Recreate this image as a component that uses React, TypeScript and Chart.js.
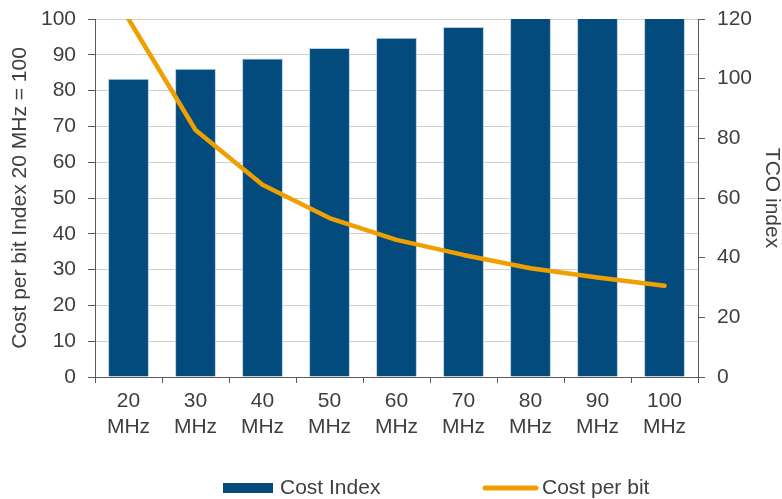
import React, { useEffect, useRef } from "react";
import { Chart, registerables } from "chart.js";

Chart.register(...registerables);

const categories: string[][] = [
  ["20", "MHz"], ["30", "MHz"], ["40", "MHz"], ["50", "MHz"], ["60", "MHz"],
  ["70", "MHz"], ["80", "MHz"], ["90", "MHz"], ["100", "MHz"],
];
const costIndex: number[] = [100, 103.3, 106.8, 110.3, 113.7, 117.3, 121, 124, 128];
const costPerBit: number[] = [100, 69, 53.7, 44.4, 38.3, 34.1, 30.4, 27.8, 25.5];

const BAR_COLOR = "#034A7D";
const LINE_COLOR = "#EFA000";
const TEXT = "#3F3F3F";
const AXIS = "#5A5A5A";
const GRID = "#CFCFCF";
const FONT = "'Liberation Sans', Arial, sans-serif";

const customLegend = {
  id: "customLegend",
  afterDraw(chart: any) {
    const ctx = chart.ctx;
    const y = 488;
    ctx.save();
    ctx.font = `21px ${FONT}`;
    ctx.fillStyle = TEXT;
    ctx.textBaseline = "middle";
    ctx.textAlign = "left";
    const ds0 = chart.data.datasets[0];
    ctx.fillStyle = ds0.backgroundColor;
    ctx.fillRect(223, y - 5, 50, 10);
    ctx.fillStyle = TEXT;
    ctx.fillText(ds0.label, 280, y);
    const ds1 = chart.data.datasets[1];
    ctx.strokeStyle = ds1.borderColor;
    ctx.lineWidth = 5;
    ctx.lineCap = "round";
    ctx.beginPath();
    ctx.moveTo(485, y);
    ctx.lineTo(536, y);
    ctx.stroke();
    ctx.fillText(ds1.label, 542, y);
    ctx.restore();
  },
};

export default function App() {
  const ref = useRef<HTMLCanvasElement | null>(null);
  useEffect(() => {
    document.body.style.margin = "0";
    if (!ref.current) return;
    const chart = new Chart(ref.current, {
      type: "bar",
      data: {
        labels: categories,
        datasets: [
          {
            type: "bar",
            label: "Cost Index",
            data: costIndex,
            backgroundColor: BAR_COLOR,
            borderColor: "#B9CFE2",
            borderWidth: 1,
            yAxisID: "y1",
            categoryPercentage: 1,
            barPercentage: 0.61,
            clip: 0,
            order: 2,
          } as any,
          {
            type: "line",
            label: "Cost per bit",
            data: costPerBit,
            borderColor: LINE_COLOR,
            backgroundColor: LINE_COLOR,
            borderWidth: 4.5,
            borderCapStyle: "round",
            borderJoinStyle: "round",
            pointRadius: 0,
            tension: 0,
            yAxisID: "y",
            clip: 0,
            order: 1,
          } as any,
        ],
      },
      options: {
        responsive: false,
        animation: false,
        layout: { padding: { top: 19, left: 0, right: 0, bottom: 0 } },
        plugins: {
          legend: { display: false },
          tooltip: { enabled: false },
        },
        scales: {
          x: {
            offset: true,
            grid: {
              display: true,
              drawOnChartArea: false,
              drawTicks: true,
              tickLength: 6,
              tickColor: AXIS,
              offset: true,
            },
            border: { display: true, color: AXIS, width: 1 },
            ticks: {
              color: TEXT,
              font: { family: FONT, size: 21, lineHeight: 1.2 },
              padding: 6,
              maxRotation: 0,
              autoSkip: false,
            },
            afterFit: (s: any) => { s.height = 122; },
          },
          y: {
            position: "left",
            min: 0,
            max: 100,
            ticks: {
              stepSize: 10,
              color: TEXT,
              font: { family: FONT, size: 21, lineHeight: 0.6 },
              padding: 12,
            },
            grid: { color: GRID, lineWidth: 1, tickColor: AXIS, tickLength: 7, drawTicks: true },
            border: { display: true, color: AXIS, width: 1 },
            title: {
              display: true,
              text: "Cost per bit Index 20 MHz = 100",
              color: TEXT,
              font: { family: FONT, size: 21, lineHeight: 1 },
              padding: { top: 9.5, bottom: 0 },
            },
            afterFit: (s: any) => { s.width = 95; },
          },
          y1: {
            position: "right",
            min: 0,
            max: 120,
            ticks: {
              stepSize: 20,
              color: TEXT,
              font: { family: FONT, size: 21, lineHeight: 0.6 },
              padding: 12,
            },
            grid: { drawOnChartArea: false, tickColor: AXIS, tickLength: 7, drawTicks: true },
            border: { display: true, color: AXIS, width: 1 },
            title: {
              display: true,
              text: "TCO index",
              color: TEXT,
              font: { family: FONT, size: 21, lineHeight: 1 },
              padding: { top: 0, bottom: 0 },
            },
            afterFit: (s: any) => { s.width = 84; },
          },
        },
      } as any,
      plugins: [customLegend],
    });
    return () => chart.destroy();
  }, []);
  return <canvas ref={ref} width={782} height={499} style={{ display: "block" }} />;
}
